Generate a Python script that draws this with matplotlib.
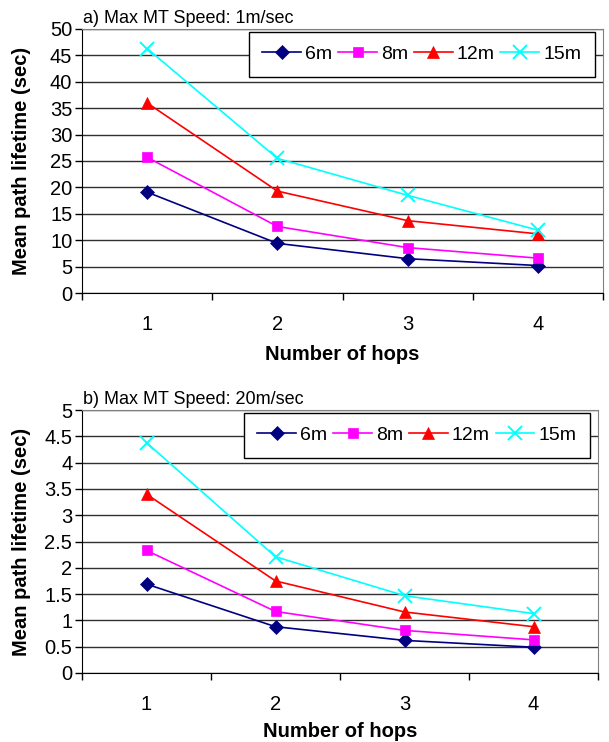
import matplotlib.pyplot as plt
from matplotlib.ticker import MultipleLocator, FixedLocator, FuncFormatter

plt.rcParams['font.family'] = ['Liberation Sans', 'DejaVu Sans']

# Data
hops = [1, 2, 3, 4]
series_names = ['6m', '8m', '12m', '15m']

# a) Max MT Speed: 1m/sec
slow_6m = [19.1, 9.4, 6.5, 5.2]
slow_8m = [25.7, 12.6, 8.6, 6.6]
slow_12m = [36.0, 19.3, 13.7, 11.2]
slow_15m = [46.3, 25.5, 18.5, 11.9]

# b) Max MT Speed: 20m/sec
fast_6m = [1.69, 0.88, 0.62, 0.49]
fast_8m = [2.33, 1.17, 0.81, 0.63]
fast_12m = [3.40, 1.75, 1.16, 0.88]
fast_15m = [4.38, 2.21, 1.47, 1.13]

colors = ['#000080', '#FF00FF', '#FF0000', '#00FFFF']
markers = ['D', 's', '^', 'x']
msizes = [7, 7.5, 8.5, 9.5]

fig = plt.figure(figsize=(6.09, 7.42), dpi=100)
ax1 = fig.add_axes([82/609, 1 - 293/742, 521/609, 264/742])
ax2 = fig.add_axes([82/609, 1 - 673/742, 516/609, 263/742])


def draw(ax, data, ymax, ystep, title):
    for vals, name, c, m, ms in zip(data, series_names, colors, markers, msizes):
        ax.plot(hops, vals, color=c, marker=m, markersize=ms, lw=1.2,
                label=name, markeredgewidth=1.4 if m == 'x' else 0.5)
    ax.set_xlim(0.5, 4.5)
    ax.set_ylim(0, ymax)
    ax.yaxis.set_major_locator(MultipleLocator(ystep))
    ax.yaxis.set_major_formatter(FuncFormatter(lambda v, p: '%g' % round(v, 2)))
    ax.xaxis.set_major_locator(FixedLocator(hops))
    ax.xaxis.set_minor_locator(FixedLocator([0.5, 1.5, 2.5, 3.5, 4.5]))
    ax.tick_params(axis='x', which='major', length=0, pad=16, labelsize=14.5)
    ax.tick_params(axis='x', which='minor', length=5, direction='out', width=1)
    ax.tick_params(axis='y', length=5, direction='out', width=1, labelsize=14.5, pad=2)
    ax.grid(axis='y', color='#303030', lw=1)
    ax.set_axisbelow(True)
    for s in ['top', 'right']:
        ax.spines[s].set_color('#808080')
    ax.spines['left'].set_color('black')
    ax.spines['bottom'].set_color('black')
    ax.set_ylabel('Mean path lifetime (sec)', fontsize=14.5, fontweight='bold')
    ax.yaxis.set_label_coords(-0.098, 0.5)
    ax.set_xlabel('Number of hops', fontsize=14.5, fontweight='bold')
    ax.text(0.002, 1.008, title, transform=ax.transAxes, fontsize=13,
            ha='left', va='bottom')
    leg = ax.legend(loc='upper right', ncol=4, fontsize=14, frameon=True,
                    fancybox=False, edgecolor='black', framealpha=1,
                    handlelength=2.0, handletextpad=0.2, columnspacing=0.3,
                    borderpad=0.7, borderaxespad=0.15, bbox_to_anchor=(0.99, 1.0))
    leg.get_frame().set_linewidth(1)


draw(ax1, [slow_6m, slow_8m, slow_12m, slow_15m], 50, 5, 'a) Max MT Speed: 1m/sec')
ax1.xaxis.set_label_coords(0.5, -0.197)
draw(ax2, [fast_6m, fast_8m, fast_12m, fast_15m], 5, 0.5, 'b) Max MT Speed: 20m/sec')
ax2.xaxis.set_label_coords(0.5, -0.186)

fig.savefig('out.png', dpi=100)
